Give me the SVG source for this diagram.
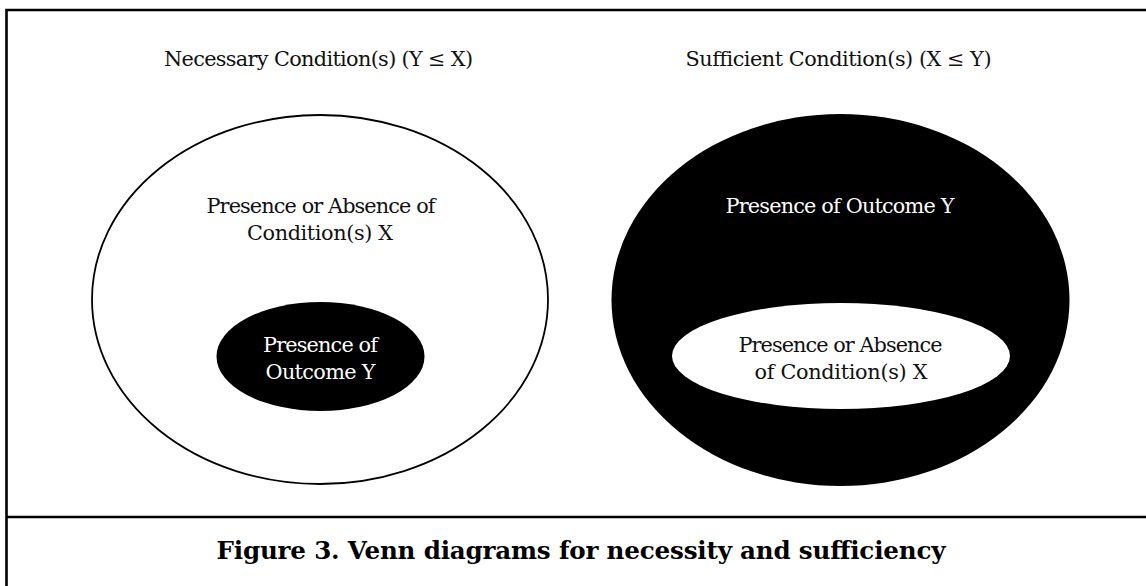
<svg xmlns="http://www.w3.org/2000/svg" width="1146" height="586" viewBox="0 0 1146 586">
<style>
.t{font-family:"DejaVu Serif","Liberation Serif",serif;font-size:20.8px;text-anchor:middle;fill:#111}
.w{fill:#fff}
.cap{font-family:"DejaVu Serif","Liberation Serif",serif;font-size:24.6px;font-weight:bold;text-anchor:middle;fill:#000}
</style>
<rect x="0" y="0" width="1146" height="586" fill="#fff"/>
<g id="frame" fill="none" stroke="#000" stroke-width="2.6">
<path d="M6.5 600 V10 H1150"/>
<path d="M6.5 517 H1150"/>
</g>
<g id="titles">
<text class="t" x="318.5" y="65.5" textLength="309">Necessary Condition(s) (Y ≤ X)</text>
<text class="t" x="838.5" y="65.5" textLength="306">Sufficient Condition(s) (X ≤ Y)</text>
</g>
<g id="nec-outer">
<ellipse cx="320" cy="299.5" rx="228" ry="184.5" fill="#fff" stroke="#000" stroke-width="1.8"/>
<text class="t" x="321" y="213" textLength="229">Presence or Absence of</text>
<text class="t" x="320" y="240" textLength="146">Condition(s) X</text>
</g>
<g id="nec-inner">
<ellipse cx="320.5" cy="356.5" rx="104" ry="54.5" fill="#000"/>
<text class="t w" x="320.5" y="352" textLength="115">Presence of</text>
<text class="t w" x="320.5" y="378.5" textLength="110">Outcome Y</text>
</g>
<g id="suf-outer">
<ellipse cx="840.5" cy="300" rx="229" ry="186" fill="#000"/>
<text class="t w" x="840" y="212.5" textLength="229">Presence of Outcome Y</text>
</g>
<g id="suf-inner">
<ellipse cx="841" cy="356" rx="169" ry="53" fill="#fff"/>
<text class="t" x="840.5" y="351.5" textLength="204">Presence or Absence</text>
<text class="t" x="841" y="378.5" textLength="173">of Condition(s) X</text>
</g>
<g id="connectors"></g>
<g id="caption">
<text class="cap" x="581" y="559" textLength="729">Figure 3. Venn diagrams for necessity and sufficiency</text>
</g>
</svg>
